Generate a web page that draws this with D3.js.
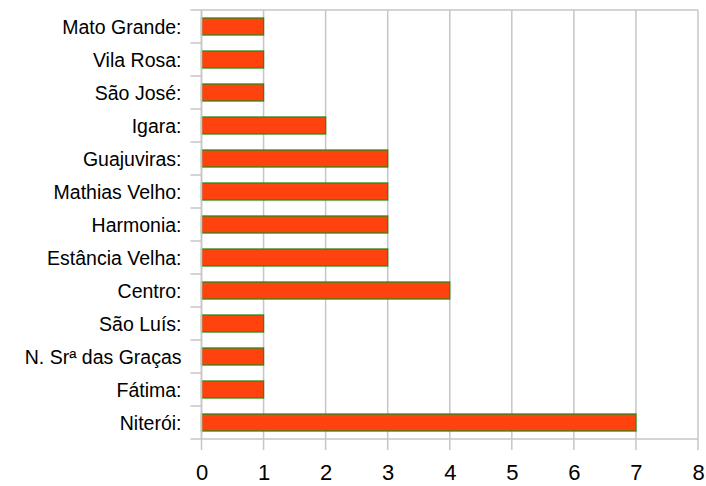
<!DOCTYPE html>
<meta charset="utf-8">
<title>Bairros</title>
<style>
body { margin: 0; background: #fff; }
.grid line { stroke: #c6c6c6; stroke-width: 1.5; }
.axis path, .axis line { stroke: #c6c6c6; stroke-width: 1.5; }
.axis text { fill: #000; font-family: "Liberation Sans", Arial, sans-serif; }
.bar { fill: #ff420e; stroke: #2a8a14; stroke-width: 1.3; }
</style>
<body>
<svg width="706" height="486"></svg>
<script src="https://d3js.org/d3.v7.min.js"></script>
<script>

var categories = ["Mato Grande:", "Vila Rosa:", "São José:", "Igara:", "Guajuviras:", "Mathias Velho:", "Harmonia:", "Estância Velha:", "Centro:", "São Luís:", "N. Srª das Graças", "Fátima:", "Niterói:"];
var values = [1, 1, 1, 2, 3, 3, 3, 3, 4, 1, 1, 1, 7];
var xTicks = [0, 1, 2, 3, 4, 5, 6, 7, 8];

var svg = d3.select("svg"),
    margin = {top: 10, right: 8, bottom: 47, left: 201.5},
    width = +svg.attr("width") - margin.left - margin.right,
    height = +svg.attr("height") - margin.top - margin.bottom;

var x = d3.scaleLinear().domain([0, 8]).range([0, width]);
var y = d3.scaleBand().domain(categories).range([0, height]).paddingInner(0.485).paddingOuter(0.2425);
var yEdges = d3.scaleLinear().domain([0, categories.length]).range([0, height]);

var g = svg.append("g")
    .attr("transform", "translate(" + margin.left + "," + margin.top + ")");

// vertical grid lines, running a little under the bottom edge
g.append("g")
    .attr("class", "grid")
    .selectAll("line")
    .data(xTicks)
    .enter().append("line")
    .attr("x1", function(d) { return x(d); })
    .attr("x2", function(d) { return x(d); })
    .attr("y1", 0)
    .attr("y2", height + 11);

// top line and left ticks at band edges
g.append("g")
    .attr("class", "grid")
    .selectAll("line")
    .data(d3.range(categories.length + 1))
    .enter().append("line")
    .attr("x1", -11)
    .attr("x2", function(d) { return d == 0 || d == categories.length ? width : 0; })
    .attr("y1", function(d) { return yEdges(d); })
    .attr("y2", function(d) { return yEdges(d); });

g.selectAll(".bar")
    .data(values)
    .enter().append("rect")
    .attr("class", "bar")
    .attr("x", x(0))
    .attr("y", function(d, i) { return y(categories[i]); })
    .attr("width", function(d) { return x(d) - x(0); })
    .attr("height", y.bandwidth());

// left axis line
g.append("line")
    .attr("x1", 0).attr("x2", 0)
    .attr("y1", 0).attr("y2", height)
    .style("stroke", "#c6c6c6").style("stroke-width", 1.5);

var xAxis = g.append("g")
    .attr("class", "axis")
    .attr("transform", "translate(0," + height + ")")
    .call(d3.axisBottom(x).tickValues(xTicks).tickSize(0).tickPadding(25));
xAxis.select(".domain").remove();
xAxis.selectAll("text").style("font-size", "22px");

var yAxis = g.append("g")
    .attr("class", "axis")
    .call(d3.axisLeft(y).tickSize(0).tickPadding(20));
yAxis.select(".domain").remove();
yAxis.selectAll("text").style("font-size", "19.5px").attr("dy", "0.36em");

</script>
</body>
